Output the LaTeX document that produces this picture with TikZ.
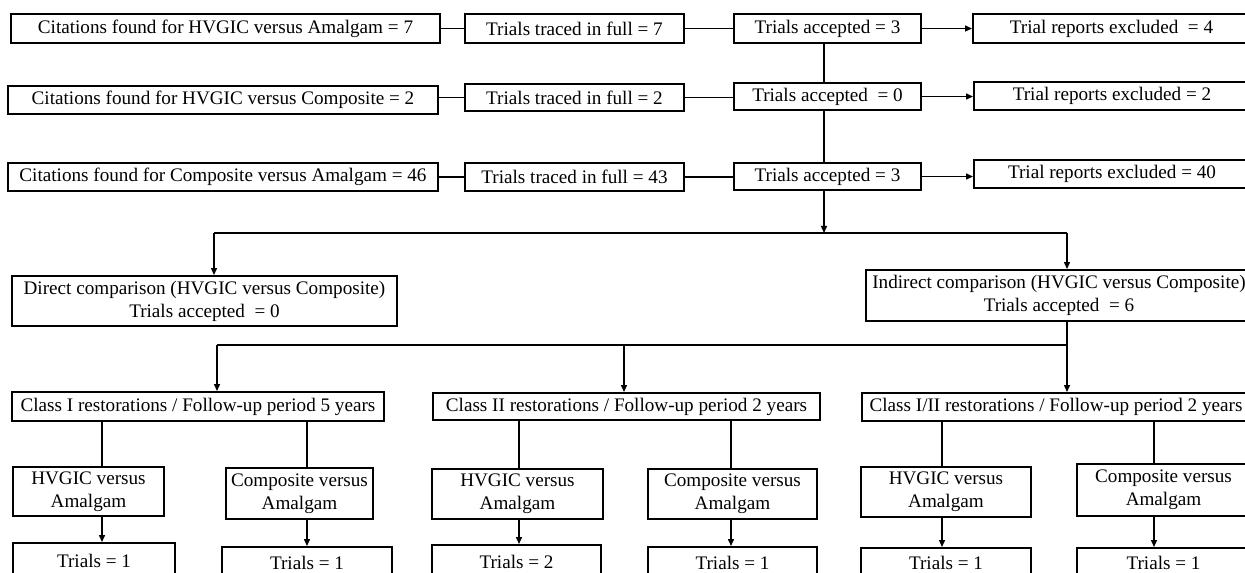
\documentclass[tikz,border=0pt]{standalone}
\usepackage{fontspec}
\setmainfont{Liberation Serif}
\usetikzlibrary{arrows.meta}
\newcommand\mybox[6]{\node[box, minimum width={(#4-#2)*0.02cm}, minimum height={(#5-#3)*0.02cm}] (#1) at ({(#2+#4)/2},{(#3+#5)/2}) {#6};}
\begin{document}
\begin{tikzpicture}[x=0.02cm,y=-0.02cm,
  box/.style={draw=black, line width=1.1pt, inner sep=0pt, align=center, font=\fontsize{10.9}{13}\selectfont},
  conn/.style={draw=black, line width=0.85pt},
  arr/.style={conn, -{Triangle[length=4pt,width=3.4pt]}}]
\useasboundingbox (0,0) rectangle (1245,572);
\clip (0,0) rectangle (1245,572);
\fill[white] (0,0) rectangle (1245,572);
% row 1
\mybox{A1}{11}{14}{440}{43}{Citations found for HVGIC versus Amalgam = 7}
\mybox{T1}{465}{14}{684}{43}{Trials traced in full = 7}
\mybox{C1}{734}{14}{921}{43}{Trials accepted = 3}
\mybox{E1}{973}{14}{1250}{43}{Trial reports excluded~ = 4}
% row 2
\mybox{A2}{8}{86}{438}{114}{Citations found for HVGIC versus Composite = 2}
\mybox{T2}{465}{84}{684}{111}{Trials traced in full = 2}
\mybox{C2}{734}{83}{921}{110}{Trials accepted~ = 0}
\mybox{E2}{974}{82}{1250}{110}{Trial reports excluded = 2}
% row 3
\mybox{A3}{8}{163}{438}{191}{Citations found for Composite versus Amalgam = 46}
\mybox{T3}{465}{163}{684}{191}{Trials traced in full = 43}
\mybox{C3}{734}{163}{921}{190}{Trials accepted = 3}
\mybox{E3}{974}{160}{1250}{188}{Trial reports excluded = 40}
% comparisons
\mybox{D}{12}{276}{397}{326}{Direct comparison (HVGIC versus Composite)\\Trials accepted~ = 0}
\mybox{I}{866}{270}{1252}{321}{Indirect comparison (HVGIC versus Composite)\\Trials accepted~ = 6}
% classes
\mybox{K1}{12}{392}{384}{421}{Class I restorations / Follow-up period 5 years}
\mybox{K2}{433}{393}{820}{420}{Class II restorations / Follow-up period 2 years}
\mybox{K3}{862}{393}{1250}{421}{Class I/II restorations / Follow-up period 2 years}
% sub boxes
\mybox{H1}{13}{467}{164}{516}{HVGIC versus\\Amalgam}
\mybox{P1}{226}{468}{373}{519}{Composite versus\\Amalgam}
\mybox{H2}{432}{469}{603}{519}{HVGIC versus\\Amalgam}
\mybox{P2}{648}{469}{817}{519}{Composite versus\\Amalgam}
\mybox{H3}{861}{467}{1031}{517}{HVGIC versus\\Amalgam}
\mybox{P3}{1077}{464}{1250}{516}{Composite versus\\Amalgam}
% trials
\mybox{R1}{13}{543}{175}{578}{Trials = 1}
\mybox{S1}{222}{547}{392}{578}{Trials = 1}
\mybox{R2}{432}{545}{601}{578}{Trials = 2}
\mybox{S2}{648}{547}{817}{578}{Trials = 1}
\mybox{R3}{861}{548}{1031}{578}{Trials = 1}
\mybox{S3}{1077}{548}{1250}{578}{Trials = 1}
% row connectors
\draw[conn] (A1.east) -- (T1.west);
\draw[conn] (T1.east) -- (C1.west);
\draw[arr] (C1.east) -- (E1.west |- C1.east);
\draw[conn] (A2.east |- T2.west) -- (T2.west);
\draw[conn] (T2.east) -- (C2.west |- T2.east);
\draw[arr] (C2.east) -- (E2.west |- C2.east);
\draw[conn] (A3.east) -- (T3.west);
\draw[conn] (T3.east) -- (C3.west |- T3.east);
\draw[arr] (C3.east) -- (E3.west |- C3.east);
% vertical
\coordinate (vx) at (824,0);
\coordinate (h1) at (824,233);
\draw[conn] (vx |- C1.south) -- (vx |- C2.north);
\draw[conn] (vx |- C2.south) -- (vx |- C3.north);
\draw[arr] (vx |- C3.south) -- (h1);
\draw[conn] (214,233) -- (1067,233);
\draw[arr] (214,233) -- (214,0 |- D.north);
\draw[arr] (1067,233) -- (1067,0 |- I.north);
% to classes
\draw[arr] (1067,0 |- I.south) -- (1067,0 |- K3.north);
\draw[conn] (217,345) -- (1067,345);
\draw[arr] (217,345) -- (217,0 |- K1.north);
\draw[arr] (624,345) -- (624,0 |- K2.north);
% class to sub
\draw[conn] (102,0 |- K1.south) -- (102,0 |- H1.north);
\draw[arr] (102,0 |- H1.south) -- (102,0 |- R1.north);
\draw[conn] (307,0 |- K1.south) -- (307,0 |- P1.north);
\draw[arr] (307,0 |- P1.south) -- (307,0 |- S1.north);
\draw[conn] (519,0 |- K2.south) -- (519,0 |- H2.north);
\draw[arr] (519,0 |- H2.south) -- (519,0 |- R2.north);
\draw[conn] (731,0 |- K2.south) -- (731,0 |- P2.north);
\draw[arr] (731,0 |- P2.south) -- (731,0 |- S2.north);
\draw[conn] (942,0 |- K3.south) -- (942,0 |- H3.north);
\draw[arr] (942,0 |- H3.south) -- (942,0 |- R3.north);
\draw[conn] (1154,0 |- K3.south) -- (1154,0 |- P3.north);
\draw[arr] (1154,0 |- P3.south) -- (1154,0 |- S3.north);
\end{tikzpicture}
\end{document}
